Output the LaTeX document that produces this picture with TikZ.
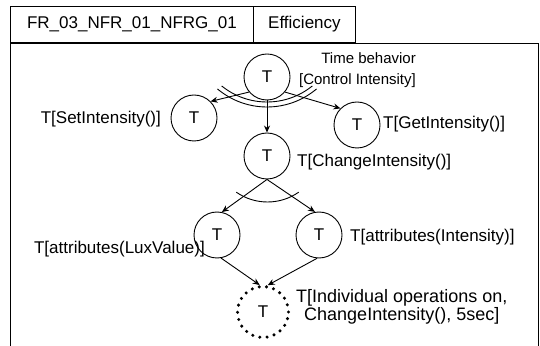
\documentclass[tikz,border=0pt]{standalone}
\usepackage{fontspec}
\setmainfont{Liberation Sans}
\usetikzlibrary{arrows.meta}
\begin{document}
\begin{tikzpicture}[x=1pt,y=1pt,
  every node/.style={font=\fontsize{17}{20}\selectfont},
  tnode/.style={draw, circle, minimum size=46pt, inner sep=0pt, line width=0.9pt},
  dotnode/.style={draw, circle, minimum size=51pt, inner sep=0pt, line width=3.4pt, line cap=round, dash pattern=on 0pt off 7.3pt},
  conn/.style={line width=0.9pt, -{Stealth[length=7pt,width=6pt]}},
  frameline/.style={line width=0.9pt},
  hdr/.style={draw, line width=0.9pt, minimum height=36pt, inner sep=0pt, anchor=south west},
  lbl/.style={inner sep=0pt}
]
\useasboundingbox (0,0) rectangle (540,345);
% header and frame
\node[hdr, minimum width=243pt] (id) at (10,302) {FR\_03\_NFR\_01\_NFRG\_01};
\node[hdr, minimum width=102pt] (eff) at (253,302) {Efficiency};
\coordinate (bl) at (10,-5);
\coordinate (tr) at (538,302);
\coordinate (br) at (538,-5);
\draw[frameline] (id.south west) -- (bl);
\draw[frameline] (id.south west) -- (tr) -- (br);
% goal nodes
\node[tnode] (top) at (267,268) {T};
\node[tnode] (set) at (194,227) {T};
\node[tnode] (get) at (357,220) {T};
\node[tnode] (chg) at (267,189) {T};
\node[tnode] (lux) at (217,110) {T};
\node[tnode] (int) at (319,110) {T};
\node[dotnode] (ind) at (263,33) {T};
% labels
\node[lbl, anchor=east, align=right, font=\fontsize{15}{21}\selectfont] (ltop) at (416,275) {Time behavior\\{[}Control Intensity{]}};
\node[lbl, anchor=east] (lset) at (161,226) {T[SetIntensity()]};
\node[lbl, anchor=west] (lget) at (383,221) {T[GetIntensity()]};
\node[lbl, anchor=west] (lchg) at (297,183) {T[ChangeIntensity()]};
\node[lbl, anchor=east] (llux) at (205,96) {T[attributes(LuxValue)]};
\node[lbl, anchor=west] (lint) at (350,108) {T[attributes(Intensity)]};
\node[lbl, anchor=west, align=center, font=\fontsize{18}{18}\selectfont] (lind) at (296,38.5) {T[Individual operations on,\\ChangeIntensity(), 5sec]};
% connectors
\draw[conn] (top.220) -- (set.45);
\draw[conn] (top.320) -- (get.135);
\draw[conn] (top.south) -- (chg.north);
\draw[conn] (chg.south) -- (lux.78);
\draw[conn] (chg.south) -- (int.100);
\draw[conn] (lux.-80) -- (ind.97);
\draw[conn] (int.-95) -- (ind.80);
% decomposition arcs
\draw[frameline] (267,315) ++(231:72) arc[start angle=231, end angle=309, radius=72];
\draw[frameline] (267,315) ++(230:77) arc[start angle=230, end angle=310, radius=77];
\draw[frameline] (267.5,197.5) ++(235:54.5) arc[start angle=235, end angle=305, radius=54.5];
\end{tikzpicture}
\end{document}
